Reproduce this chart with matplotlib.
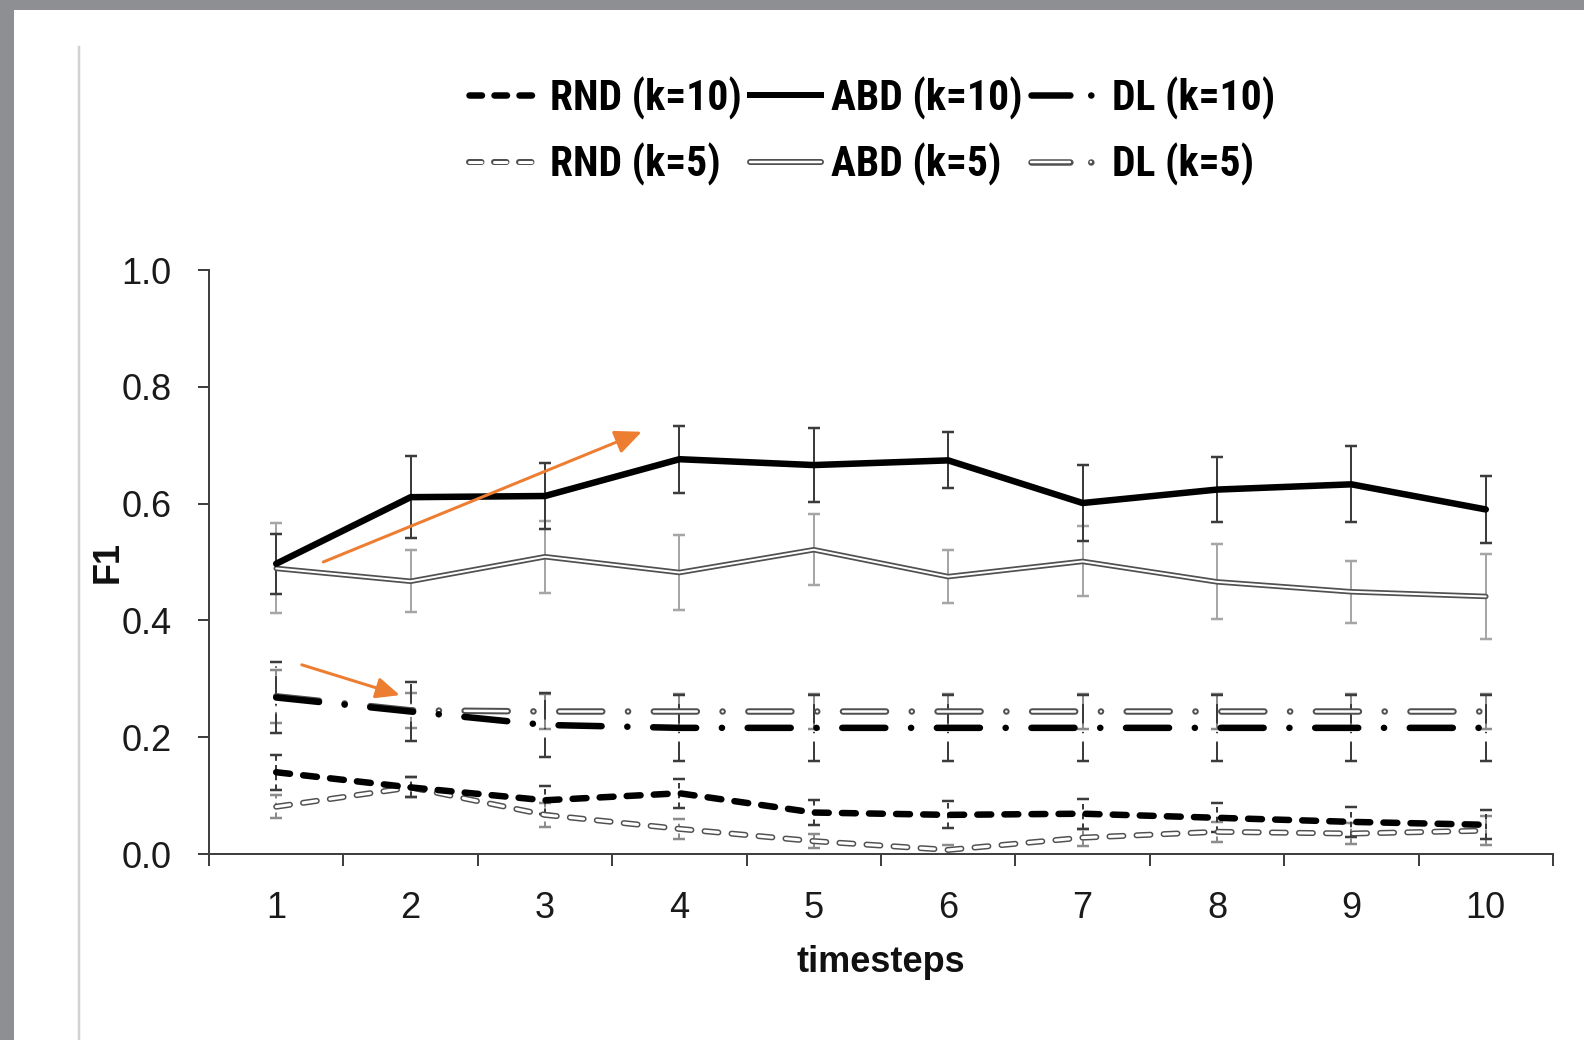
import matplotlib
matplotlib.use('Agg')
import matplotlib.pyplot as plt
from matplotlib import font_manager
from matplotlib.lines import Line2D
from matplotlib.patches import Rectangle
from matplotlib.ticker import FixedLocator, FormatStrFormatter

plt.rcParams['lines.scale_dashes'] = False

# ---------------- data ----------------
timesteps = [1, 2, 3, 4, 5, 6, 7, 8, 9, 10]

abd_k10 = [0.497, 0.611, 0.613, 0.676, 0.666, 0.674, 0.601, 0.624, 0.633, 0.590]
abd_k10_err = [0.051, 0.070, 0.057, 0.057, 0.064, 0.048, 0.065, 0.055, 0.065, 0.057]
abd_k5 = [0.489, 0.467, 0.509, 0.482, 0.521, 0.475, 0.501, 0.466, 0.449, 0.441]
abd_k5_err = [0.077, 0.053, 0.062, 0.065, 0.061, 0.046, 0.060, 0.064, 0.053, 0.072]

rnd_k10 = [0.140, 0.114, 0.092, 0.104, 0.071, 0.067, 0.069, 0.062, 0.055, 0.050]
rnd_k10_err = [0.030, 0.017, 0.024, 0.025, 0.021, 0.023, 0.026, 0.025, 0.026, 0.025]
rnd_k5 = [0.081, 0.114, 0.067, 0.043, 0.022, 0.007, 0.028, 0.038, 0.035, 0.040]
rnd_k5_err = [0.020, 0.017, 0.020, 0.017, 0.012, 0.008, 0.015, 0.017, 0.018, 0.025]

dl_k10 = [0.268, 0.244, 0.221, 0.216, 0.216, 0.216, 0.216, 0.216, 0.216, 0.216]
dl_k10_err = [0.060, 0.050, 0.055, 0.057, 0.057, 0.057, 0.057, 0.057, 0.057, 0.057]
dl_k5 = [0.270, 0.246, 0.244, 0.244, 0.244, 0.244, 0.244, 0.244, 0.244, 0.244]
dl_k5_err = [0.045, 0.030, 0.030, 0.030, 0.030, 0.030, 0.030, 0.030, 0.030, 0.030]

y_ticks = [0.0, 0.2, 0.4, 0.6, 0.8, 1.0]
labels_k10 = ['RND (k=10)', 'ABD (k=10)', 'DL (k=10)']
labels_k5 = ['RND (k=5)', 'ABD (k=5)', 'DL (k=5)']

# ---------------- fonts ----------------
names = {f.name for f in font_manager.fontManager.ttflist}
legend_family, legend_size = 'Roboto', 27
for fam in ['Liberation Sans Narrow', 'Roboto Condensed', 'Arial Narrow']:
    if fam in names:
        legend_family, legend_size = fam, 30
        break
tick_family = 'Liberation Sans'

PX = 0.72  # points per pixel at dpi 100

fig = plt.figure(figsize=(15.84, 10.4), dpi=100)
fig.patch.set_facecolor('#8e8f93')
fig.add_artist(Rectangle((14 / 1584, 0), 1, 1 - 10 / 1040, transform=fig.transFigure,
                         facecolor='white', edgecolor='none', zorder=0))
fig.add_artist(Line2D([79 / 1584, 79 / 1584], [0, 1 - 47 / 1040], transform=fig.transFigure,
                      color='#d2d2d2', lw=2.5 * PX, zorder=1))

ax = fig.add_axes([209 / 1584, 1 - 854 / 1040, (1553 - 209) / 1584, (854 - 270) / 1040])
ax.set_facecolor('none')

dark = '#505050'
rnd_dash = (0, (10.0, 9.5))
dl_dash = (0, (31.0, 18.5, 0.1, 18.5))


def err(y, e, color, ls='solid'):
    c = ax.errorbar(timesteps, y, yerr=e, fmt='none', ecolor=color, elinewidth=2 * PX,
                    capsize=6 * PX, capthick=2.5 * PX, zorder=2)
    c[2][0].set_linestyle(ls)


def dbl(y, ls, w_out, w_in, z):
    ax.plot(timesteps, y, color=dark, lw=w_out, linestyle=ls, dash_capstyle='round',
            solid_capstyle='round', solid_joinstyle='round', zorder=z)
    ax.plot(timesteps, y, color='white', lw=w_in, linestyle=ls, dash_capstyle='round',
            solid_capstyle='round', solid_joinstyle='round', zorder=z + 0.1)


# error bars
err(abd_k5, abd_k5_err, '#a6a6a6')
err(abd_k10, abd_k10_err, '#3c3c3c')
err(rnd_k5, rnd_k5_err, '#8c8c8c', (0, (4, 3)))
err(rnd_k10, rnd_k10_err, '#3c3c3c', (0, (4, 3)))
err(dl_k5, dl_k5_err, '#8c8c8c', (0, (8, 4, 1, 4)))
err(dl_k10, dl_k10_err, '#3c3c3c', (0, (14, 6, 1, 6)))

# lines
dbl(abd_k5, 'solid', 5.5 * PX, 2.0 * PX, 3)
ax.plot(timesteps, abd_k10, color='black', lw=6.5 * PX, solid_joinstyle='round',
        solid_capstyle='round', zorder=4)
dbl(rnd_k5, rnd_dash, 6 * PX, 3 * PX, 3)
ax.plot(timesteps, rnd_k10, color='black', lw=6.5 * PX, linestyle=rnd_dash,
        dash_capstyle='round', zorder=4)
dbl(dl_k5, dl_dash, 6.5 * PX, 2.5 * PX, 3)
ax.plot(timesteps, dl_k10, color='black', lw=6.5 * PX, linestyle=dl_dash,
        dash_capstyle='round', zorder=4)

# arrows
orange = '#ED7D31'
ax.annotate('', xy=(3.72, 0.723), xytext=(1.35, 0.50),
            arrowprops=dict(arrowstyle='-|>,head_length=0.9,head_width=0.4', color=orange,
                            lw=3 * PX, mutation_scale=18, shrinkA=0, shrinkB=0), zorder=6)
ax.annotate('', xy=(1.92, 0.272), xytext=(1.19, 0.324),
            arrowprops=dict(arrowstyle='-|>,head_length=0.9,head_width=0.4', color=orange,
                            lw=3 * PX, mutation_scale=16, shrinkA=0, shrinkB=0), zorder=6)

# axes styling
ax.set_xlim(0.5, 10.5)
ax.set_ylim(0, 1.0)
for s in ['top', 'right']:
    ax.spines[s].set_visible(False)
for s in ['left', 'bottom']:
    ax.spines[s].set_color('#404040')
    ax.spines[s].set_linewidth(2 * PX)
ax.set_xticks(timesteps)
ax.set_xticklabels([str(t) for t in timesteps])
ax.xaxis.set_minor_locator(FixedLocator([t - 0.5 for t in timesteps] + [10.5]))
ax.tick_params(axis='x', which='major', length=0, pad=27, labelsize=26, labelcolor='#1a1a1a')
ax.tick_params(axis='x', which='minor', length=12 * PX, width=2 * PX, color='#404040', direction='out')
ax.set_yticks(y_ticks)
ax.yaxis.set_major_formatter(FormatStrFormatter('%.1f'))
ax.tick_params(axis='y', which='major', length=11 * PX, width=2 * PX, color='#404040',
               direction='out', pad=19, labelsize=26, labelcolor='#1a1a1a')
for lab in ax.get_xticklabels() + ax.get_yticklabels():
    lab.set_fontfamily(tick_family)

fig.text(881 / 1584, 1 - 963 / 1040, 'timesteps', ha='center', va='center', fontsize=26,
         fontweight='bold', family=tick_family, color='#111111')
fig.text(108 / 1584, 1 - 562 / 1040, 'F1', ha='center', va='center', rotation=90, fontsize=26,
         fontweight='bold', family=tick_family, color='#111111')


# legend
def dbl_handle(ls, w_out, w_in):
    a = Line2D([], [], color=dark, lw=w_out, linestyle=ls, dash_capstyle='round', solid_capstyle='round')
    b = Line2D([], [], color='white', lw=w_in, linestyle=ls, dash_capstyle='round', solid_capstyle='round')
    return (a, b)


leg_rnd_dash = (0, (9, 9))
leg_dl_dash = (0, (28, 15, 0.1, 30))
h_rnd10 = Line2D([], [], color='black', lw=6.5 * PX, linestyle=leg_rnd_dash, dash_capstyle='round')
h_abd10 = Line2D([], [], color='black', lw=6 * PX)
h_dl10 = Line2D([], [], color='black', lw=6.5 * PX, linestyle=leg_dl_dash, dash_capstyle='round')
h_rnd5 = dbl_handle(leg_rnd_dash, 6 * PX, 3 * PX)
h_abd5 = dbl_handle('solid', 6 * PX, 2.5 * PX)
h_dl5 = dbl_handle(leg_dl_dash, 6.5 * PX, 2.5 * PX)

handles = [h_rnd10, h_rnd5, h_abd10, h_abd5, h_dl10, h_dl5]
labels = [labels_k10[0], labels_k5[0], labels_k10[1], labels_k5[1], labels_k10[2], labels_k5[2]]
leg = fig.legend(handles, labels, ncol=3, loc='center', bbox_to_anchor=(872 / 1584, 1 - 131 / 1040),
                 frameon=False, prop={'family': legend_family, 'weight': 'bold', 'size': legend_size},
                 handlelength=1.7, handletextpad=0.25, columnspacing=0.2, labelspacing=0.55)

fig.savefig('out.png', dpi=100, facecolor=fig.get_facecolor())
